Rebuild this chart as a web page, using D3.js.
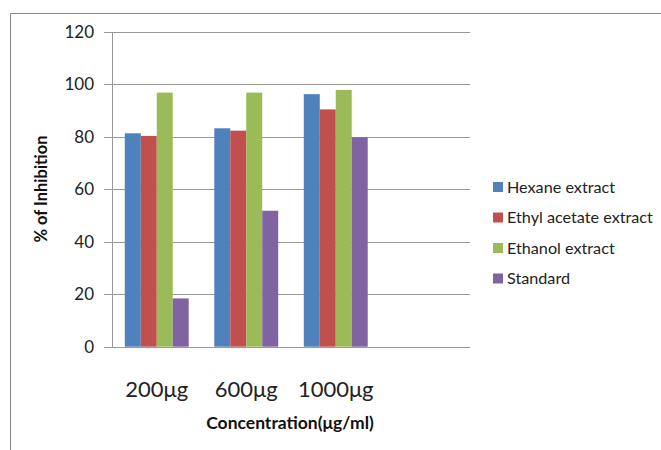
<!DOCTYPE html>
<html><head><meta charset="utf-8">
<script src="https://cdn.jsdelivr.net/npm/d3@7"></script>
<style>body{margin:0;background:#fff}svg{display:block}</style>
</head><body>
<script>
const categories = ["200μg", "600μg", "1000μg", ""];
const seriesNames = ["Hexane extract", "Ethyl acetate extract", "Ethanol extract", "Standard"];
const hexane = [81.3, 83.2, 96.2];
const ethylAcetate = [80.3, 82.3, 90.4];
const ethanol = [96.8, 96.8, 97.8];
const standard = [18.4, 51.8, 79.8];
const yTicks = [0, 20, 40, 60, 80, 100, 120];
const colors = ["#4F81BD", "#C0504D", "#9BBB59", "#8064A2"];

const seriesValues = [hexane, ethylAcetate, ethanol, standard];
const W = 661, H = 450;
const font = "Lato, 'Open Sans', sans-serif";
const svg = d3.select("body").append("svg").attr("width", W).attr("height", H);

// outer frame (cut off at right/bottom)
svg.append("path").attr("d", `M10.5,${H} V13.5 H${W}`).attr("fill", "none").attr("stroke", "#888").attr("stroke-width", 1);

const x0 = d3.scaleBand().domain(categories).range([112, 470]).paddingInner(0).paddingOuter(0);
const x1 = d3.scaleBand().domain(seriesNames).range([0, x0.bandwidth()]).paddingInner(0).paddingOuter(0.8);
const y = d3.scaleLinear().domain([0, 120]).range([346.7, 31.7]);

// gridlines
svg.append("g").selectAll("line").data(yTicks).join("line")
  .attr("x1", 104).attr("x2", 470)
  .attr("y1", d => Math.round(y(d)) + 0.5).attr("y2", d => Math.round(y(d)) + 0.5)
  .attr("stroke", "#999").attr("stroke-width", 1);

// y axis line
svg.append("line").attr("x1", 112.5).attr("x2", 112.5)
  .attr("y1", Math.round(y(120)) + 0.5).attr("y2", Math.round(y(0)) + 0.5)
  .attr("stroke", "#999");

// y tick labels
svg.append("g").selectAll("text").data(yTicks).join("text")
  .attr("x", 94).attr("y", d => y(d)).attr("dy", "0.35em")
  .attr("text-anchor", "end").attr("font-family", font).attr("font-size", 17).attr("fill", "#222")
  .text(d => d);

// bars
const groups = svg.append("g").selectAll("g").data(categories.filter((c, i) => i < hexane.length)).join("g")
  .attr("transform", d => `translate(${x0(d)},0)`);
groups.selectAll("rect").data((d, i) => seriesNames.map((s, j) => ({ s, v: seriesValues[j][i], c: colors[j] })))
  .join("rect")
  .attr("x", d => x1(d.s)).attr("width", x1.bandwidth())
  .attr("y", d => y(d.v)).attr("height", d => y(0) - y(d.v))
  .attr("fill", d => d.c);

// x labels
svg.append("g").selectAll("text").data(categories.filter(c => c)).join("text")
  .attr("x", d => x0(d) + x0.bandwidth() / 2).attr("y", 397)
  .attr("text-anchor", "middle").attr("font-family", font).attr("font-size", 22).attr("fill", "#222")
  .text(d => d);

// axis titles
svg.append("text").attr("x", 290).attr("y", 429).attr("text-anchor", "middle")
  .attr("font-family", font).attr("font-weight", "bold").attr("font-size", 17.5).attr("fill", "#111")
  .text("Concentration(μg/ml)");
svg.append("text").attr("transform", "translate(47,189) rotate(-90)").attr("text-anchor", "middle")
  .attr("font-family", font).attr("font-weight", "bold").attr("font-size", 16.5).attr("fill", "#111")
  .text("% of Inhibition");

// legend
const leg = svg.append("g").selectAll("g").data(seriesNames).join("g")
  .attr("transform", (d, i) => `translate(493,${187 + i * 30.5})`);
leg.append("rect").attr("x", 0).attr("y", -5).attr("width", 10).attr("height", 10).attr("fill", (d, i) => colors[i]);
leg.append("text").attr("x", 14).attr("y", 0).attr("dy", "0.35em")
  .attr("font-family", font).attr("font-size", 16.2).attr("fill", "#222").text(d => d);
</script>
</body></html>
